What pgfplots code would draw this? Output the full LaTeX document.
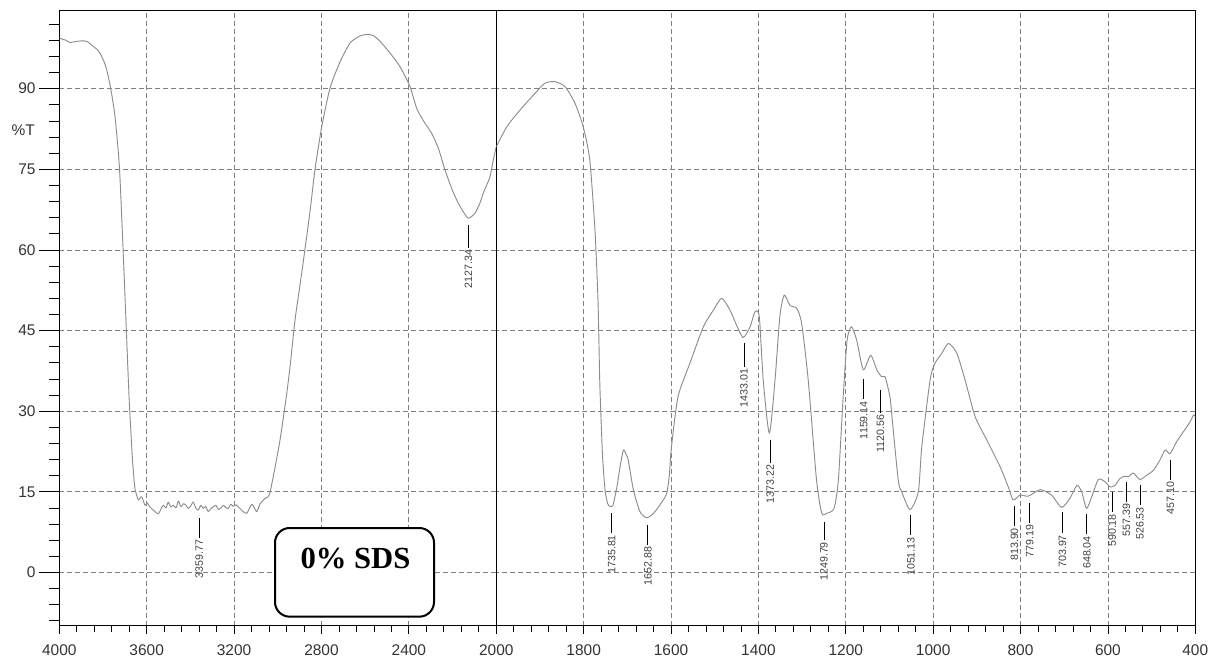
\documentclass[border=0pt]{standalone}
\usepackage{fontspec}
\setmainfont{Liberation Sans}
\newfontfamily\serifbold{Liberation Serif}
\usepackage{pgfplots}
\pgfplotsset{compat=1.18}

\pgfplotsset{
  ftir/.style={
    scale only axis, height=461.25pt,
    ymin=-9.9, ymax=104.5, x dir=reverse,
    axis line style={black, line width=0.8pt},
    grid=major,
    major grid style={dash pattern=on 3.75pt off 2.25pt, black!50, line width=0.6pt},
    ytick={0,15,...,90},
    tick align=outside,
    major tick length=6pt, minor tick length=4.5pt,
    xtick pos=bottom, ytick pos=left,
    x tick style={black, line width=0.6pt},
    y tick style={draw=none},
    minor y tick num=0,
    tick label style={font=\fontsize{11.6}{13}\selectfont, text=black!80},
    xticklabel style={yshift=-4.6pt},
    /pgf/number format/assume math mode=true,
    /pgf/number format/1000 sep={},
    clip mode=individual,
  },
  spec/.style={color=black!45, line width=0.7pt, line join=round, mark=none, smooth, tension=0.4},
}
\newcommand{\pk}[3]{%
  \draw[black, line width=0.7pt] (axis cs:#1,#2) -- (axis cs:#1,#3);
  \node[rotate=90, anchor=east, inner sep=1.2pt, font=\fontsize{8}{9}\selectfont, text=black!75] at (axis cs:#1,#3) {#1};
}

\begin{document}
\begin{tikzpicture}
\useasboundingbox (0,0) rectangle (908.25pt,493.5pt);

% ---------------- left part 4000-2000 ----------------
\begin{axis}[ftir,
  at={(44.475pt,24.225pt)}, anchor=south west, width=327.75pt,
  xmin=2000, xmax=4000,
  xtick={2000,2400,2800,3200,3600,4000},
  minor x tick num=4,
  yticklabel style={xshift=-8.3pt},
]
\addplot[spec] coordinates {
(4000,99.4) (3970,99.0) (3951,98.6) (3920,98.8) (3890,98.9) (3870,98.7)
(3852,98.1) (3830,97.4) (3814,96.6) (3795,95.0) (3783,93.5) (3765,90.1)
(3745,84.8) (3725,75.5) (3710,62) (3695,47) (3680,32) (3665,21) (3655,16)
(3649,14.8) (3638,13.5) (3623,14.1) (3608,12.5) (3597,12.9) (3585,12.2) (3570,11.6)
(3547,10.9) (3535,11.8) (3524,12.5) (3512,12.0) (3501,13.1) (3490,12.2) (3478,12.5) (3466,12.0) (3455,13.3)
(3443,12.2) (3432,12.8) (3420,12.5) (3410,11.9) (3398,12.4) (3387,13.1) (3375,12.0) (3364,11.6) (3352,12.5) (3341,11.9)
(3330,12.3) (3318,11.3) (3306,11.9) (3295,12.2) (3283,12.5) (3272,11.7) (3260,12.0) (3249,12.5) (3238,12.1) (3227,11.9)
(3215,12.7) (3204,12.3) (3192,12.6) (3181,12.2) (3170,11.8) (3158,11.3) (3142,11.0) (3130,11.9) (3119,12.7)
(3107,12.0) (3096,11.3) (3081,12.8) (3070,13.3) (3058,13.8) (3046,14.0) (3036,14.8) (3020,18)
(2990,24.6) (2960,33) (2944,38.3) (2921,47) (2900,53) (2875,60.3)
(2850,68) (2830,74.9) (2799,82.9) (2761,90.1) (2715,95.0) (2669,98.5)
(2624,99.8) (2586,100.1) (2560,99.8) (2532,98.8) (2486,96.6) (2441,94.1)
(2395,90.4) (2364,86.3) (2330,83.8) (2296,81.7) (2265,78.9) (2235,74.9) (2200,71.0)
(2174,68.7) (2151,67.1) (2128,65.9) (2098,66.8) (2075,68.7) (2060,70.5)
(2029,73.6) (2014,76.7) (2000,79.2)
};
\pk{3359.77}{10.1}{6.4}
\pk{2127.34}{64.7}{60.4}
% y tick marks (long majors, minors every 3 units)
\pgfplotsinvokeforeach{-9,-6,...,102}{\draw[black, line width=0.6pt] (axis cs:4000,#1) -- ++(-7.5pt,0pt);}
\pgfplotsinvokeforeach{0,15,...,90}{\draw[black, line width=0.6pt] (axis cs:4000,#1) -- ++(-15pt,0pt);}
\node[anchor=east, inner sep=0pt, xshift=-18.2pt, font=\fontsize{11.6}{13}\selectfont, text=black!80] at (axis cs:4000,82.3) {\%T};
\end{axis}

% ---------------- right part 2000-400 ----------------
\begin{axis}[ftir,
  at={(372.225pt,24.225pt)}, anchor=south west, width=524.25pt,
  xmin=400, xmax=2000,
  xtick={400,600,800,1000,1200,1400,1600,1800,2000},
  xticklabels={400,600,800,1000,1200,1400,1600,1800,},
  minor x tick num=4,
  yticklabels={},
]
\addplot[spec] coordinates {
(2000,79.2) (1976,82.9) (1946,86.0) (1915,88.8) (1889,91.0) (1866,91.3)
(1843,90.4) (1820,87.3) (1801,82.9) (1786,76.7) (1774,63.5) (1767,50)
(1763,35) (1757,22) (1751,15.3) (1745,12.8) (1740,12.3) (1733,12.5)
(1724,15.9) (1716,20) (1709,22.8) (1703,22) (1698,20.9) (1686,15.3)
(1671,11.3) (1656,10.2) (1640,11.0) (1621,13.1) (1610,14.7) (1604,18)
(1599,23.4) (1584,32.7) (1557,38.9) (1526,45.7) (1503,48.8) (1484,51.0)
(1465,48.8) (1450,46.0) (1435,43.7) (1419,45.7) (1408,48.5) (1398,47.6)
(1389,35.8) (1375,25.9) (1362,35.8) (1351,47.6) (1341,51.6) (1328,49.7)
(1312,49.1) (1301,46.3) (1286,35.8) (1267,17.2) (1255,11.0) (1244,11.0)
(1227,11.9) (1217,17.2) (1206,32.7) (1197,43.2) (1187,45.7) (1175,43.2)
(1160,37.7) (1143,40.4) (1129,37.7) (1118,36.4) (1110,36.4) (1099,32.7)
(1095,29.6) (1080,17.2) (1072,15.0) (1053,11.7) (1034,15.0) (1026,23.4)
(1007,35.8) (996,38.9) (980,40.8) (965,42.6) (946,40.8) (927,35.8)
(904,29.0) (877,24.6) (847,19.7) (828,15.9) (817,13.5) (801,14.4)
(782,14.2) (755,15.4) (729,14.4) (706,12.1) (687,13.8) (671,16.2)
(660,15.0) (649,11.9) (637,14.1) (622,17.3) (607,16.9) (595,15.9)
(584,16.2) (572,17.5) (561,17.9) (553,17.8) (542,18.5) (527,17.3)
(511,18.1) (496,19.0) (481,20.9) (469,22.8) (458,22.1) (443,24.3)
(427,26.2) (412,28.0) (404,29.3) (400,29.0)
};
\pk{1735.81}{11.1}{7.3}
\pk{1652.88}{8.8}{5.1}
\pk{1433.01}{42.7}{38.2}
\pk{1373.22}{24.7}{20.4}
\pk{1249.79}{9.4}{6.0}
\pk{1159.14}{35.9}{32.2}
\pk{1120.56}{34.0}{29.7}
\pk{1051.13}{10.6}{6.9}
\pk{813.90}{12.3}{8.6}
\pk{779.19}{12.9}{9.2}
\pk{703.97}{11.2}{7.3}
\pk{648.04}{10.9}{7.1}
\pk{590.18}{14.9}{11.2}
\pk{557.39}{16.8}{13.1}
\pk{526.53}{16.2}{12.5}
\pk{457.10}{20.9}{17.2}
\end{axis}

% ---------------- sample box ----------------
\draw[black, line width=1.5pt, rounded corners=11pt, fill=white] (206.25pt,31pt) rectangle (325.5pt,97.5pt);
\node[font=\serifbold\bfseries\fontsize{23}{26}\selectfont, inner sep=0pt] at (266.6pt,74.25pt) {0\% SDS};
\end{tikzpicture}
\end{document}
